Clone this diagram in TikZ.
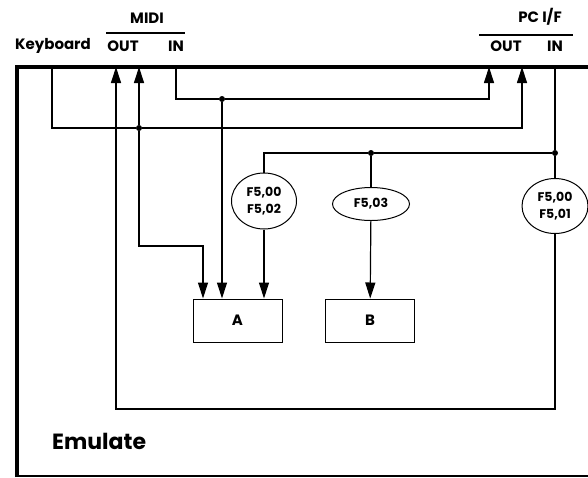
\documentclass[tikz,border=0pt]{standalone}
\usepackage{fontspec}
\setmainfont{Poppins}
\usetikzlibrary{arrows.meta,positioning,shapes.geometric}
\tikzset{
  lbl/.style={font=\bfseries\fontsize{15}{16}\selectfont,inner sep=1pt},
  blk/.style={rectangle,draw,line width=1pt,minimum width=89pt,minimum height=43pt,
              font=\bfseries\fontsize{15}{16}\selectfont},
  flt/.style={ellipse,draw,line width=1pt,inner sep=0pt,align=center,
              font=\bfseries\fontsize{12.5}{17}\selectfont},
  arr/.style={-{Triangle[length=16pt,width=10pt]},line width=1.2pt},
  wire/.style={line width=1.2pt},
  dot/.style={circle,fill,inner sep=0pt,minimum size=6pt},
}
\begin{document}
\begin{tikzpicture}[x=1pt,y=-1pt]
  \useasboundingbox (0,0) rectangle (588,477);
  % frame
  \draw[line width=4pt] (17,477) -- (17,67) -- (590,67);
  \draw[line width=1.5pt] (17,476) -- (590,476);
  \node[font=\bfseries\fontsize{22}{23}\selectfont,anchor=west,inner sep=0pt]
    (emu) at (52,441) {Emulate};
  % port labels
  \node[lbl] (kbd) at (53,46) {Keyboard};
  \node[lbl] (mout) at (123,46) {OUT};
  \node[lbl] (min) at (176,46) {IN};
  \node[lbl] (midi) at (147,18) {MIDI};
  \draw[wire] (106,33) -- (185,33);
  \node[lbl] (pcout) at (506,46) {OUT};
  \node[lbl] (pcin) at (555,46) {IN};
  \node[lbl] (pcif) at (540,17) {PC I/F};
  \draw[wire] (479,35) -- (573,35);
  % ports on the frame
  \coordinate (kbdP) at (52,67);
  \coordinate (moA) at (116,67);
  \coordinate (moB) at (139,67);
  \coordinate (miP) at (176,67);
  \coordinate (poA) at (489,67);
  \coordinate (poB) at (522,67);
  \coordinate (piP) at (555,67);
  % junctions
  \node[dot] (j1) at (222,99) {};
  \node[dot] (j2) at (139,128) {};
  \node[dot] (j3) at (371,153) {};
  \node[dot] (j4) at (555,153) {};
  % filters
  \node[flt,minimum width=65pt,minimum height=56pt] (f02) at (264,201) {F5,00\\F5,02};
  \node[flt,minimum width=77pt,minimum height=33pt] (f03) at (371,204) {F5,03};
  \node[flt,minimum width=66pt,minimum height=55pt] (f01) at (555,206) {F5,00\\F5,01};
  % blocks
  \node[blk] (A) at (237.5,320.5) {A};
  \node[blk] (B) at (370,320.5) {B};
  \coordinate (kink) at (203,246);
  \coordinate (loop) at (116,409);
  % connectors
  \draw[arr] (miP) |- (j1) -| (poA);
  \draw[arr] (kbdP) |- (j2) -| (poB);
  \draw[arr] (j2) -- (moB);
  \draw[arr] (j2) |- (kink) -- (kink |- A.north);
  \draw[arr] (j1) -- (j1 |- A.north);
  \draw[wire] (piP) -- (j4) -- (f01);
  \draw[arr] (f01) |- (loop) -- (moA);
  \draw[wire] (j4) -- (j3) -| (f02);
  \draw[wire] (j3) -- (f03);
  \draw[arr] (f02) -- (f02 |- A.north);
  \draw[arr] (f03) -- (B);
\end{tikzpicture}
\end{document}
